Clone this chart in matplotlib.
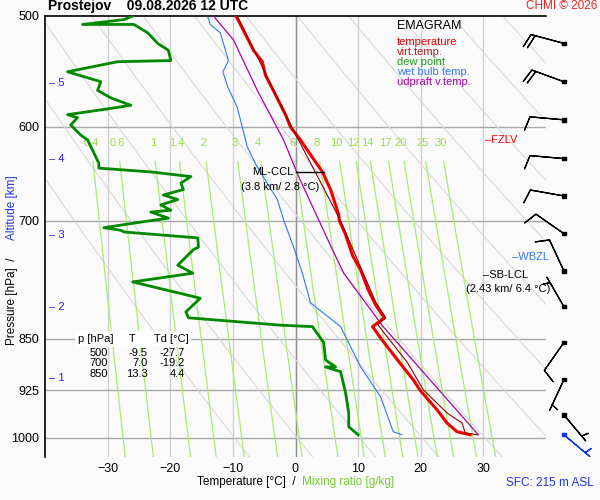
import numpy as np
import matplotlib.pyplot as plt

plt.rcParams['font.family'] = ['Liberation Sans', 'DejaVu Sans']

# temperature profile
t_p = [500, 512, 529, 539, 551, 569, 588, 600, 613, 628, 646, 665, 693, 700, 716, 741, 759, 784, 804, 821, 833, 850, 880, 909, 925, 955, 976, 990, 995]
t_T = [-9.5, -8.3, -6.7, -5.3, -4.8, -3.2, -1.6, -0.8, 0.8, 2.4, 4.3, 5.6, 6.9, 7.0, 8.0, 9.1, 10.4, 11.6, 12.8, 14.2, 12.3, 13.7, 16.3, 18.8, 19.9, 22.6, 24.2, 25.8, 27.9]

# virtual temperature
tv_p = [500, 600, 700, 800, 821, 830, 884, 924, 960, 976, 992, 995]
tv_T = [-9.3, -0.6, 7.2, 12.8, 14.4, 13.1, 17.9, 20.4, 24.2, 26.6, 27.1, 29.0]

# dew point
td_p = [500, 503, 507, 507, 514, 523, 529, 538, 539, 548, 557, 565, 572, 579, 582, 588, 591, 598, 608, 613, 626, 637, 642,
        646, 651, 658, 665, 671, 676, 682, 688, 690, 697, 701, 708, 711, 713, 720, 731, 734, 753, 763, 774, 795, 813, 821,
        831, 833, 855, 880, 890, 890, 897, 929, 960, 982, 995]
td_T = [-26.0, -27.4, -34.0, -25.8, -23.6, -22.0, -20.3, -19.9, -28.4, -36.4, -31.1, -31.6, -29.5, -26.3, -29.5, -36.4, -34.8,
        -35.9, -34.3, -33.2, -32.2, -31.4, -31.4, -23.1, -16.7, -18.3, -17.9, -21.1, -18.8, -21.5, -19.9, -23.1, -20.3,
        -24.2, -30.6, -27.9, -27.4, -15.6, -15.5, -16.3, -18.8, -16.4, -26.0, -15.2, -17.5, -17.1, -2.4, 2.7, 4.5, 4.8,
        6.4, 4.8, 7.2, 8.0, 8.5, 8.5, 10.0]

# wet bulb temperature
tw_p = [501, 507, 514, 538, 548, 562, 581, 620, 641, 676, 699, 731, 763, 801, 833, 890, 935, 990, 995]
tw_T = [-14.0, -13.6, -12.0, -10.7, -11.6, -10.8, -9.3, -7.7, -6.1, -2.9, -1.9, -0.3, 1.1, 2.4, 7.2, 10.4, 13.6, 15.6, 17.0]

# updraft virtual temperature (parcel)
pc_p = [500, 520, 565, 613, 651, 734, 763, 833, 995]
pc_T = [-13.1, -9.9, -6.1, -1.9, 0.5, 5.9, 7.7, 14.0, 29.2]

# wind (direction deg, speed kt)
w_p = [523, 557, 593, 632, 672, 715, 760, 806, 855, 909, 963, 995]
w_dir = [285, 290, 275, 275, 280, 305, 335, 330, 215, 205, 140, 130]
w_spd = [20, 20, 10, 10, 10, 10, 10, 3, 10, 5, 5, 5]

mix_ratios = [0.4, 0.6, 1, 1.4, 2, 3, 4, 6, 8, 10, 12, 14, 17, 20, 25, 30]
alt_km = [1, 2, 3, 4, 5]
alt_p = [907, 806, 716, 632, 558]

P_TOP, P_BOT = 500, 1032
bg = '#fafafa'

fig = plt.figure(figsize=(6, 5), dpi=100, facecolor=bg)
ax = fig.add_axes([0.075, 0.086, 0.835, 0.882], facecolor=bg)
ax.set_yscale('log')
ax.set_ylim(P_BOT, P_TOP)
ax.set_xlim(-40, 40)

# isotherms
for t in range(-30, 40, 10):
    ax.axvline(t, color='#d0d0d0', lw=1, zorder=1)
ax.axvline(0, color='#909090', lw=1, zorder=1)
# isobars
for p in [600, 700, 850, 925, 1000]:
    ax.axhline(p, color='#a8a8a8', lw=1, zorder=1)

# dry adiabats
pp = np.linspace(P_TOP, P_BOT, 100)
for th in np.arange(263.4, 460, 10):
    ax.plot(th * (pp / 1000) ** 0.286 - 273.15, pp, color='#d8d8d8', lw=0.8, zorder=1)

# mixing ratio lines
pm = np.linspace(635, P_BOT, 50)
for w in mix_ratios:
    e = w * pm / (622 + w)
    lg = np.log(e / 6.112)
    td = 243.5 * lg / (17.67 - lg)
    ax.plot(td, pm, color='#a8ec70', lw=0.9, zorder=2)
    e0 = w * 615 / (622 + w)
    l0 = np.log(e0 / 6.112)
    ax.text(243.5 * l0 / (17.67 - l0), 616, f'{w:g}', color='#99dd44', fontsize=8, ha='center', va='center', zorder=3)

ax.plot(tw_T, tw_p, color='#3377ee', lw=0.8, zorder=4)
ax.plot(pc_T, pc_p, color='#aa00aa', lw=0.9, zorder=4)
ax.plot(td_T, td_p, color='#008800', lw=2, zorder=5)
ax.plot(t_T, t_p, color='#ee0000', lw=2.2, zorder=5)
ax.plot(tv_T, tv_p, color='#880000', lw=0.8, zorder=6)

# axes styling
for s in ['right', 'bottom']:
    ax.spines[s].set_visible(False)
ax.spines['top'].set_linewidth(1.2)
ax.spines['left'].set_linewidth(1.2)
ax.set_yticks([500, 600, 700, 850, 925, 1000])
ax.set_yticklabels(['500', '600', '700', '850', '925', '1000'])
ax.yaxis.set_minor_locator(plt.NullLocator())
ax.set_xticks([-30, -20, -10, 0, 10, 20, 30])
ax.tick_params(length=0, labelsize=9, pad=4)

# altitude marks
for k, p in zip(alt_km, alt_p):
    ax.text(-39.4, p, f'– {k}', color='#2222dd', fontsize=8, va='center')

# annotations
ax.plot([0, 4.5], [646, 646], color='k', lw=1, zorder=7)
ax.text(-0.3, 646, 'ML-CCL', fontsize=8, ha='right', va='center', zorder=7)
ax.text(-2.5, 662, '(3.8 km/ 2.8 °C)', fontsize=8, ha='center', va='center', zorder=7)
ax.text(30.2, 613, '–FZLV', color='#ee0000', fontsize=8, va='center')
ax.text(34.5, 743, '–WBZL', color='#3377ee', fontsize=8, va='center')
ax.text(30.0, 765, '–SB-LCL', fontsize=8, va='center')
ax.text(34.0, 783, '(2.43 km/ 6.4 °C)', fontsize=8, va='center', ha='center')

# stats table
ax.text(-34.8, 850, 'p [hPa]     T      Td [°C]', fontsize=8, va='center',
        bbox=dict(facecolor='white', edgecolor='none', pad=2))
rows = [('500', '-9.5', '-27.7'), ('700', '7.0', '-19.2'), ('850', '13.3', '4.4')]
for i, (a, b, c) in enumerate(rows):
    y = 870 * (1.017 ** i)
    ax.text(-30.0, y, a, fontsize=8, ha='right', va='center')
    ax.text(-23.6, y, b, fontsize=8, ha='right', va='center')
    ax.text(-17.7, y, c, fontsize=8, ha='right', va='center')

# legend box
lg_items = [('EMAGRAM', 'black'), ('temperature', '#ee0000'), ('virt.temp.', '#aa2222'),
            ('dew point', '#229922'), ('wet bulb temp.', '#3377ee'), ('udpraft v.temp.', '#aa00aa')]
fig.text(0.662, 0.948, lg_items[0][0], fontsize=9, va='center')
for i, (s, c) in enumerate(lg_items[1:]):
    fig.text(0.662, 0.916 - i * 0.02, s, color=c, fontsize=8, va='center')

# wind barbs
axw = fig.add_axes([0.86, 0.086, 0.14, 0.882], facecolor='none')
axw.set_yscale('log')
axw.set_ylim(P_BOT, P_TOP)
axw.set_xlim(0, 1)
axw.axis('off')
d = np.radians(w_dir)
u = -np.array(w_spd) * np.sin(d)
v = -np.array(w_spd) * np.cos(d)
cols = ['k'] * (len(w_p) - 1) + ['#1133ee']
axw.barbs([0.57] * len(w_p), w_p, u, v, color=cols, length=7, linewidth=0.9, flip_barb=True)
axw.scatter([0.57] * len(w_p), w_p, s=6, c=cols, marker='s', zorder=5)

fig.text(0.08, 0.988, 'Prostejov    09.08.2026 12 UTC', fontsize=10, fontweight='bold', va='center')
fig.text(0.995, 0.988, 'CHMI © 2026', color='#ee2222', fontsize=8.5, ha='right', va='center')
fig.text(0.328, 0.035, 'Temperature [°C]  /', fontsize=8.5, va='center')
fig.text(0.503, 0.035, 'Mixing ratio [g/kg]', color='#77cc33', fontsize=8.5, va='center')
fig.text(0.99, 0.035, 'SFC: 215 m ASL', color='#2233dd', fontsize=8.5, va='center', ha='right')
fig.text(0.01, 0.31, 'Pressure [hPa]  /', rotation=90, fontsize=8.5, va='bottom')
fig.text(0.01, 0.52, 'Altitude [km]', rotation=90, color='#2233dd', fontsize=8.5, va='bottom')

fig.savefig('out.png', dpi=100, facecolor=bg)
